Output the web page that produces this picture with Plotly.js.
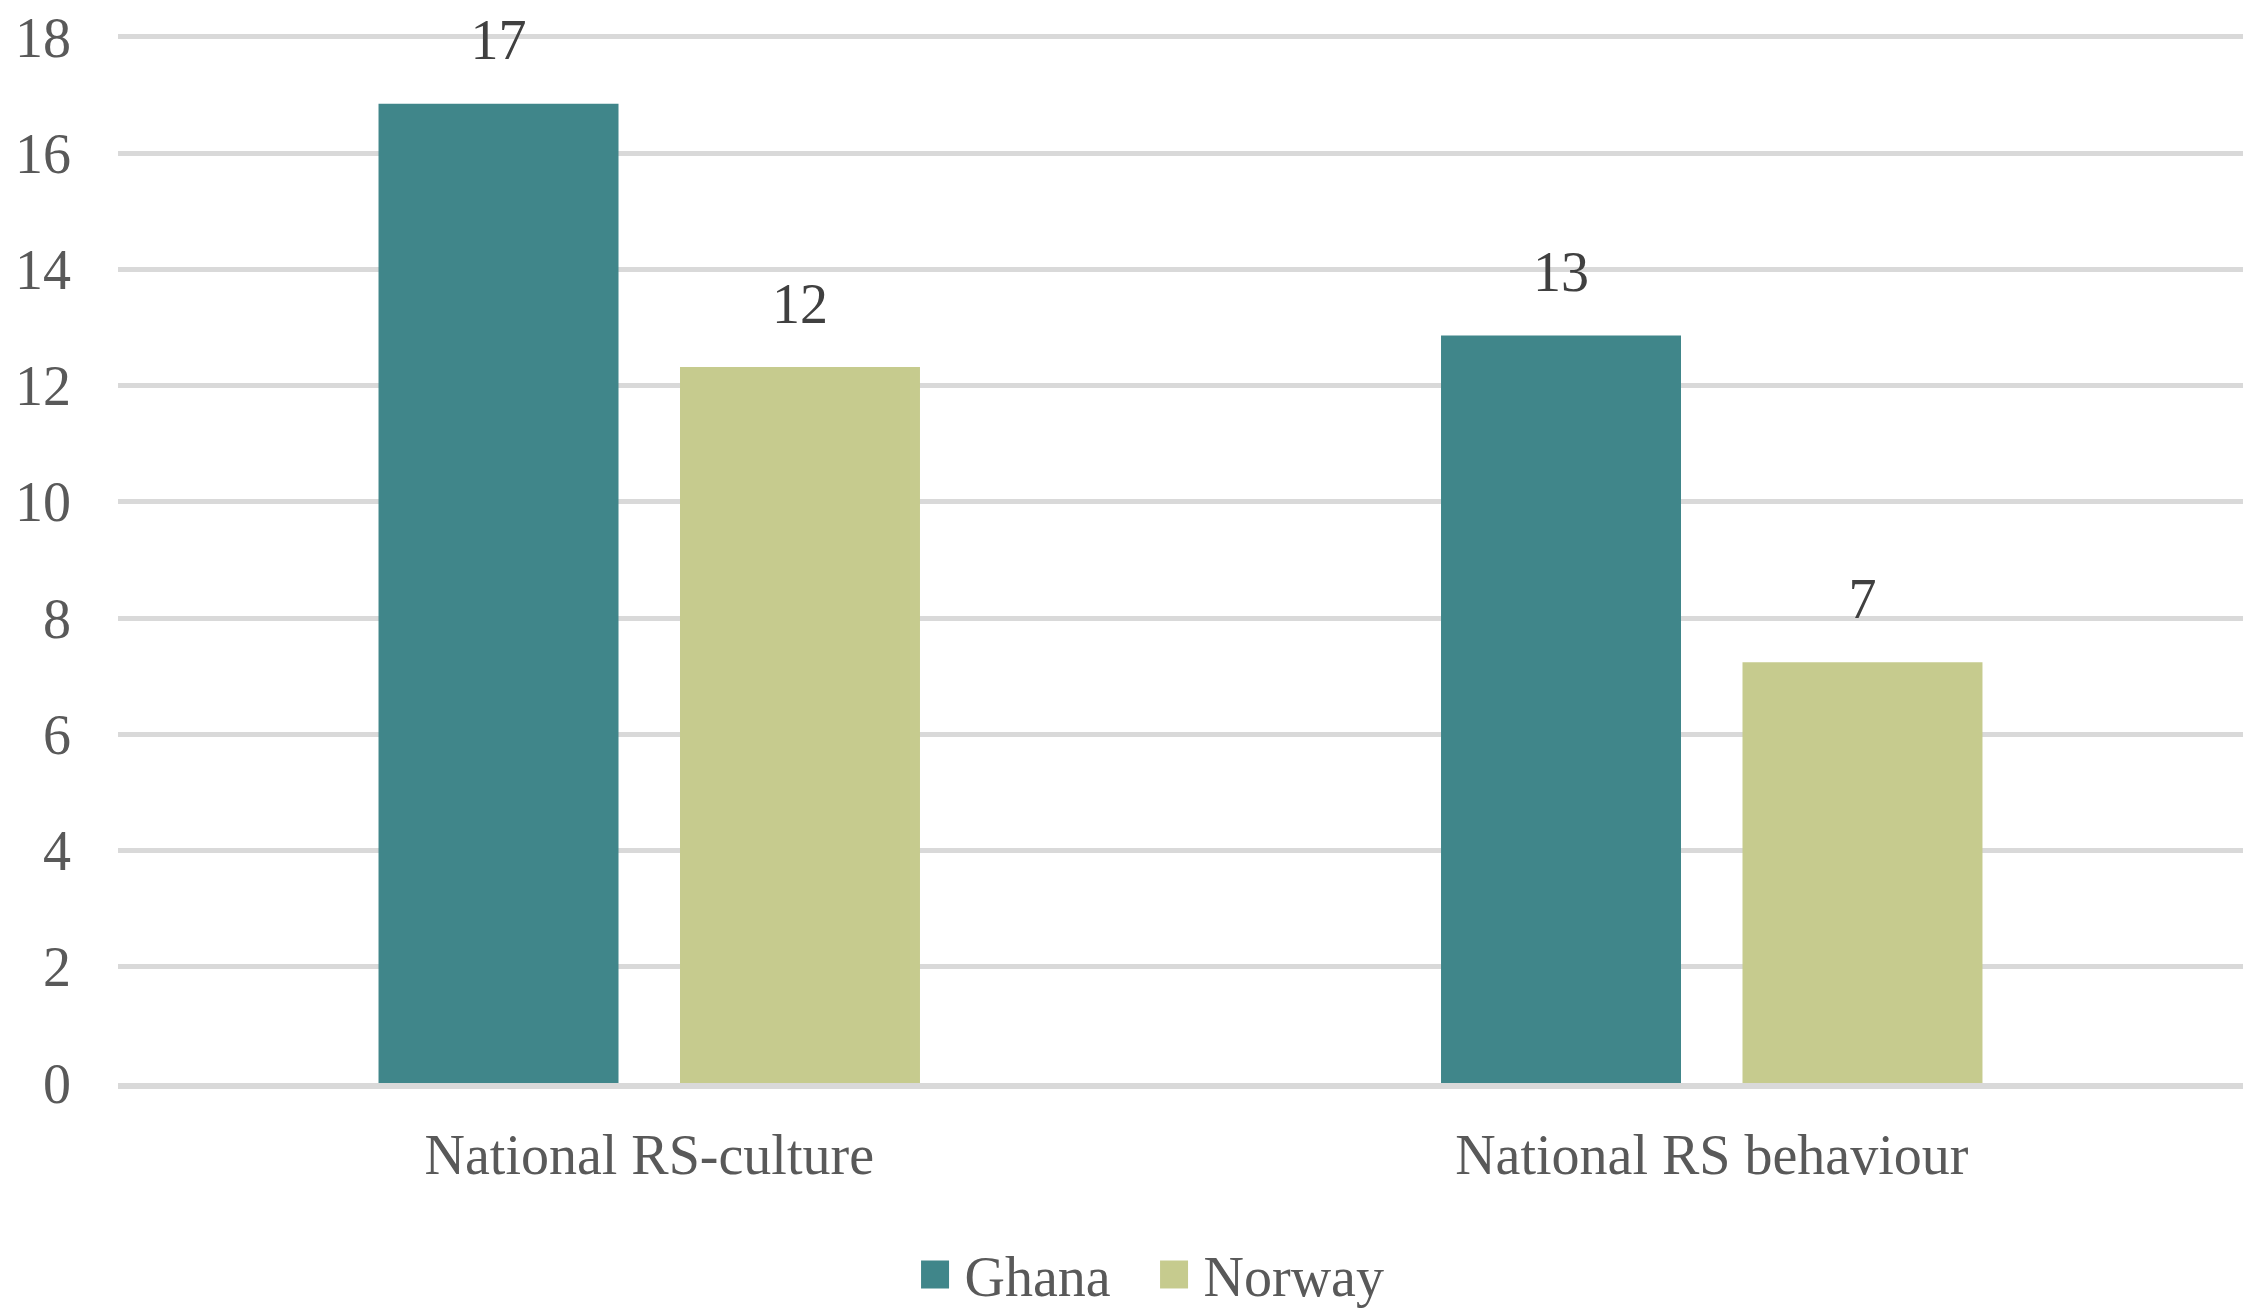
<!DOCTYPE html>
<html><head><meta charset="utf-8">
<script src="https://cdn.plot.ly/plotly-3.0.1.min.js"></script>
<style>html,body{margin:0;padding:0;background:#fff}#chart{width:2262px;height:1309px}</style>
</head><body><div id="chart"></div>
<script>
const categories = ['National RS-culture', 'National RS behaviour'];
const seriesNames = ['Ghana', 'Norway'];
const ghanaValues = [16.85, 12.86];
const norwayValues = [12.32, 7.24];
const yTickValues = [0, 2, 4, 6, 8, 10, 12, 14, 16, 18];
const seriesColors = ['#40868A', '#C6CB8E'];

const seriesValues = [ghanaValues, norwayValues];
const legendEntryWidths = [175, 185];
const fontFamily = '"Liberation Serif", "Times New Roman", serif';

const barTraces = seriesNames.map((name, i) => ({
  type: 'bar', name: name, x: categories, y: seriesValues[i],
  marker: {color: seriesColors[i]}, hoverinfo: 'skip', legendwidth: legendEntryWidths[i]
}));
const labelTraces = seriesNames.map((name, i) => ({
  type: 'scatter', mode: 'markers+text', name: name + ' labels', showlegend: false,
  x: categories, y: seriesValues[i], texttemplate: '%{y:.0f}', textposition: 'top center',
  textfont: {family: fontFamily, size: 56, color: '#404040'},
  marker: {size: 47, color: 'rgba(0,0,0,0)', opacity: 0},
  cliponaxis: false, hoverinfo: 'skip'
}));

const layout = {
  width: 2262, height: 1309,
  margin: {l: 118, r: 19, t: 34, b: 226},
  paper_bgcolor: '#fff', plot_bgcolor: '#fff',
  font: {family: fontFamily, size: 56, color: '#595959'},
  barmode: 'group', bargap: 0.4325, bargroupgap: 0.204,
  scattermode: 'group', scattergap: 0.4325,
  showlegend: true,
  legend: {orientation: 'h', x: 0.5082, xanchor: 'center', xref: 'container',
    y: 0.0263, yanchor: 'middle', yref: 'container',
    font: {family: fontFamily, size: 56, color: '#595959'}, itemwidth: 49,
    entrywidthmode: 'pixels',
    traceorder: 'normal', bgcolor: 'rgba(0,0,0,0)'},
  xaxis: {type: 'category', showgrid: false, zeroline: false,
    showline: true, linecolor: '#d9d9d9', linewidth: 6, ticks: '',
    ticklabelstandoff: 18, tickfont: {family: fontFamily, size: 56, color: '#595959'}},
  yaxis: {range: [0, 18.05], tickvals: yTickValues, showgrid: true, gridcolor: '#d9d9d9', gridwidth: 5,
    zeroline: false, showline: false, ticks: '', ticklabelstandoff: 46,
    tickfont: {family: fontFamily, size: 56, color: '#595959'}}
};

function enlargeLegendSymbols(gd) {
  gd.querySelectorAll('g.legendpoints path').forEach(p => p.setAttribute('d', 'M14,14H-14V-14H14Z'));
}
Plotly.newPlot('chart', barTraces.concat(labelTraces), layout, {staticPlot: true, displayModeBar: false})
  .then(gd => {
    enlargeLegendSymbols(gd);
    gd.on('plotly_afterplot', () => enlargeLegendSymbols(gd));
    setTimeout(() => enlargeLegendSymbols(gd), 50);
  });
</script></body></html>
